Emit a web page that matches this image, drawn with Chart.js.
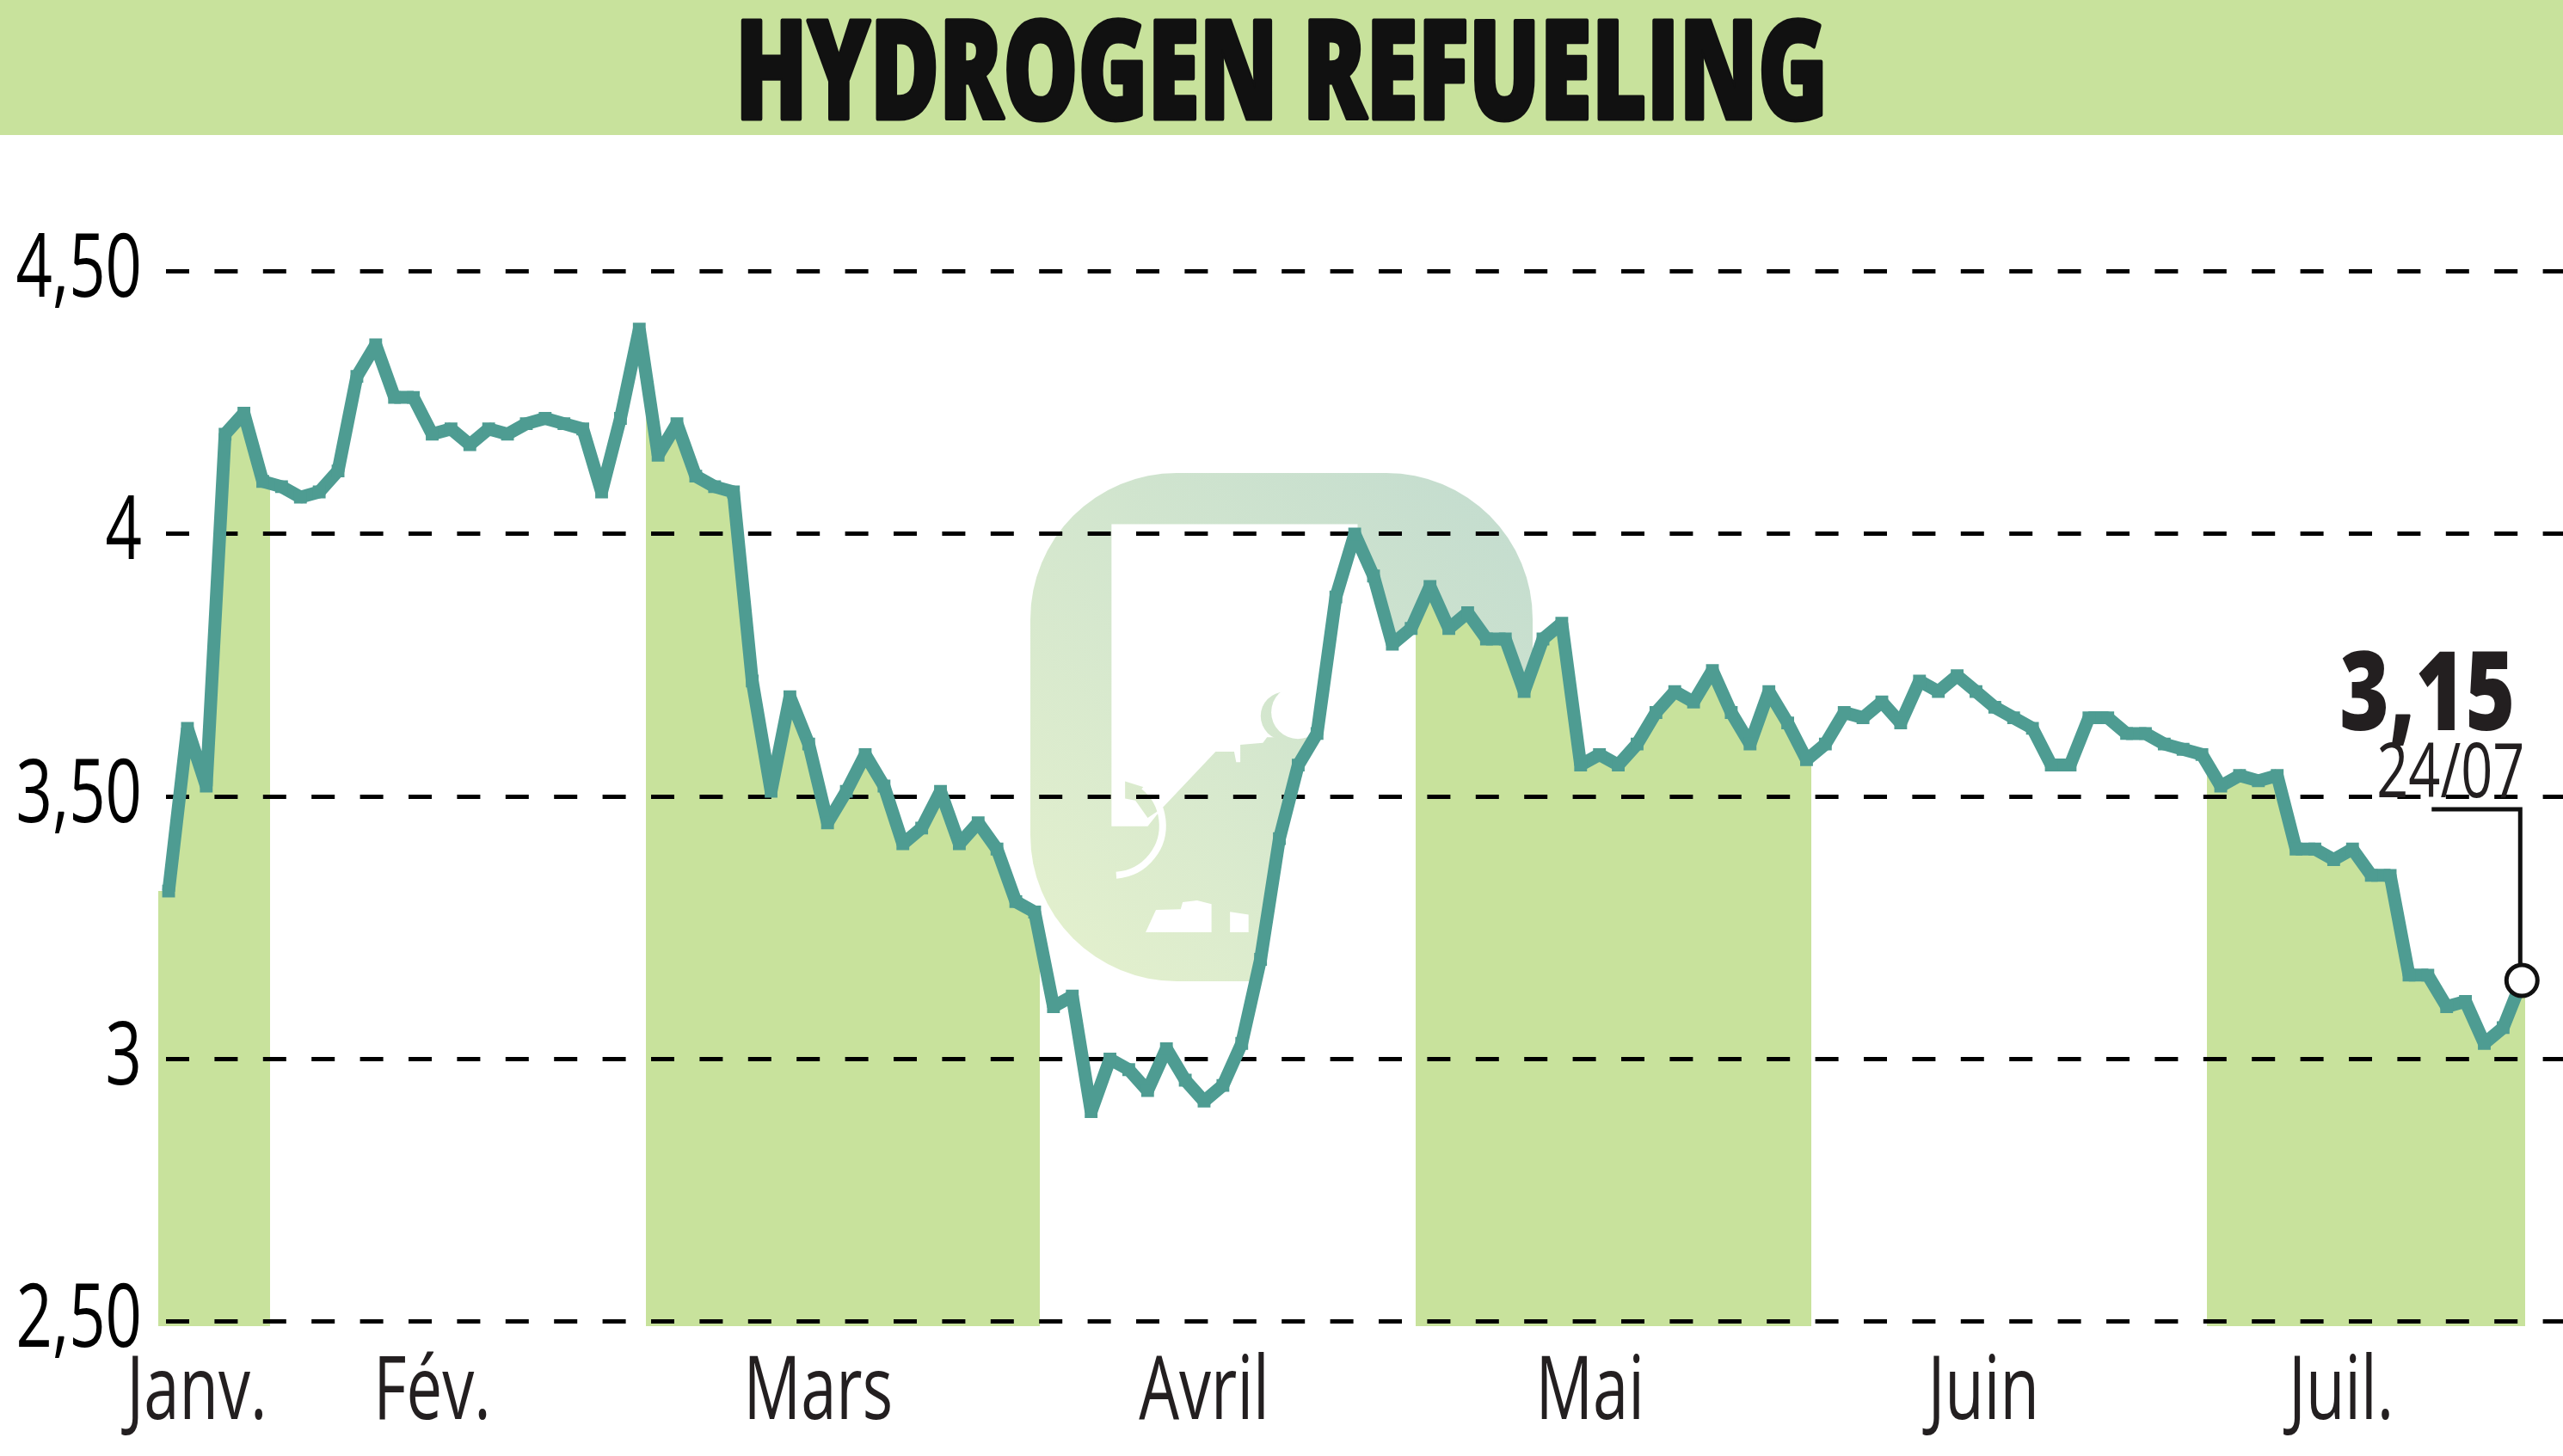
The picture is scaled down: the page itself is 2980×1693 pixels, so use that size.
<!DOCTYPE html>
<html><head><meta charset="utf-8">
<style>
html,body{margin:0;padding:0;background:#fff;width:2980px;height:1693px;overflow:hidden}
canvas{position:absolute;left:0;top:0}
</style>
<script src="https://cdn.jsdelivr.net/npm/chart.js@4/dist/chart.umd.min.js"></script>
</head><body>
<canvas id="bg" width="2980" height="1693"></canvas>
<canvas id="c" width="3003" height="1693" style="width:3003px;height:1693px"></canvas>
<script>
const titleText = "HYDROGEN REFUELING";
const prices = [
 3.32,3.63,3.52,4.19,4.23,4.10,4.09,4.07,4.08,4.12,
 4.30,4.36,4.26,4.26,4.19,4.20,4.17,4.20,4.19,4.21,
 4.22,4.21,4.20,4.08,4.22,4.39,4.15,4.21,4.11,4.09,
 4.08,3.72,3.51,3.69,3.60,3.45,3.51,3.58,3.52,3.41,
 3.44,3.51,3.41,3.45,3.40,3.30,3.28,3.10,3.12,2.90,
 3.00,2.98,2.94,3.02,2.96,2.92,2.95,3.03,3.19,3.42,
 3.56,3.62,3.88,4.00,3.92,3.79,3.82,3.90,3.82,3.85,
 3.80,3.80,3.70,3.80,3.83,3.56,3.58,3.56,3.60,3.66,
 3.70,3.68,3.74,3.66,3.60,3.70,3.64,3.57,3.60,3.66,
 3.65,3.68,3.64,3.72,3.70,3.73,3.70,3.67,3.65,3.63,
 3.56,3.56,3.65,3.65,3.62,3.62,3.60,3.59,3.58,3.52,
 3.54,3.53,3.54,3.40,3.40,3.38,3.40,3.35,3.35,3.16,
 3.16,3.10,3.11,3.03,3.06,3.15];
const yTicks = [2.5,3,3.5,4,4.5];
const yTickLabels = ["2,50","3","3,50","4","4,50"];
const monthLabels = ["Janv.","Fév.","Mars","Avril","Mai","Juin","Juil."];
const monthPositions = [1.5,14,34.5,55,75.5,96.4,115.4];
const shadedMonths = [[-0.55,5.38],[25.35,46.27],[66.23,87.24],[108.25,125.17]];
const lastValueLabel = "3,15";
const lastDateLabel = "24/07";

const GREEN="#c8e29c", TEAL="#4e9c92", INK="#231f20";
const FONT='"Open Sans","Liberation Sans",sans-serif';
const xMin=-0.55, xMax=127.18, yMin=2.4918, yMax=4.5;
const textWidths={[titleText]:1270,[lastValueLabel]:204,[lastDateLabel]:172};
const DEFAULT_SQUEEZE=0.72, TITLE_SHIFT=-11.5;

// the reference type is a condensed face: squeeze every label horizontally around its anchor
const mainCtx=document.getElementById('c').getContext('2d');
const nativeFill=mainCtx.fillText.bind(mainCtx), nativeStroke=mainCtx.strokeText.bind(mainCtx);
mainCtx.fillText=function(t,x,y){
 const w=textWidths[t], sx=w?w/mainCtx.measureText(t).width:DEFAULT_SQUEEZE;
 mainCtx.save();mainCtx.translate(t===titleText?x+TITLE_SHIFT:x,y);mainCtx.scale(sx,1);
 if(t===titleText){mainCtx.strokeStyle=mainCtx.fillStyle;mainCtx.lineWidth=5;mainCtx.lineJoin='round';nativeStroke(t,0,0);}
 nativeFill(t,0,0);
 mainCtx.restore();
};

// background: title band and faint watermark
(function(){
 const g=document.getElementById('bg').getContext('2d');
 g.fillStyle="#fff";g.fillRect(0,0,2980,1693);
 g.fillStyle=GREEN;g.fillRect(0,0,2980,157);
 const X=x=>1100+x/2.09, Y=y=>500+y/2.24;
 const grad=g.createLinearGradient(1230,1120,1770,560);
 grad.addColorStop(0,"#e3f0cd");grad.addColorStop(1,"#c3dccf");
 g.fillStyle=grad;
 g.beginPath();g.roundRect(1198,550,584,591,170);g.fill();
 g.fillStyle="#fff";
 const poly=(pts)=>{g.beginPath();pts.forEach((p,i)=>i?g.lineTo(X(p[0]),Y(p[1])):g.moveTo(X(p[0]),Y(p[1])));g.closePath();g.fill();};
 poly([[402,245],[1000,245],[1000,800],[780,800],[770,815],[715,820],[715,865],[705,865],[700,838],[655,838],[525,985],[490,1032],[402,1032]]);
 // horn
 g.fillStyle=grad;g.beginPath();g.arc(X(823),Y(745),28,0,Math.PI*2);g.fill();
 g.fillStyle="#fff";g.beginPath();g.arc(X(855),Y(735),31,0,Math.PI*2);g.fill();
 g.fillStyle=grad;
 poly([[435,915],[480,930],[515,960],[525,985],[490,1010],[460,965],[435,960]]);
 // ear arc and feet
 g.strokeStyle="#fff";g.lineWidth=8;g.beginPath();g.arc(X(405),Y(1030),58,-0.9,1.5);g.stroke();
 g.fillStyle="#fff";
 poly([[485,1308],[510,1250],[570,1248],[575,1230],[610,1225],[645,1235],[645,1308]]);
 poly([[690,1255],[735,1262],[735,1308],[690,1308]]);
})();

const fillPoints=[{x:xMin,y:prices[0]},...prices.map((v,i)=>({x:i,y:v})),{x:125.17,y:prices[prices.length-1]}];
const linePoints=prices.map((v,i)=>({x:i,y:v}));

function bandGradient(ctx){
 const ch=ctx.chart; if(!ch.chartArea) return GREEN;
 const a=ch.chartArea, sx=ch.scales.x;
 const gr=ch.ctx.createLinearGradient(a.left,0,a.right,0);
 const f=v=>Math.min(1,Math.max(0,(sx.getPixelForValue(v)-a.left)/(a.right-a.left)));
 let prev=0;
 shadedMonths.forEach(([s,e])=>{
  gr.addColorStop(prev,"#fff");gr.addColorStop(f(s),"#fff");
  gr.addColorStop(f(s),GREEN);gr.addColorStop(f(e),GREEN);
  gr.addColorStop(f(e),"#fff");prev=f(e);
 });
 gr.addColorStop(1,"#fff");
 return gr;
}

const callout={id:'callout',afterDatasetsDraw(ch){
 const c=ch.ctx,n=prices.length-1;
 const px=ch.scales.x.getPixelForValue(n),py=ch.scales.y.getPixelForValue(prices[n]);
 c.save();
 c.strokeStyle="#111";c.lineWidth=5;c.lineJoin='miter';
 c.beginPath();c.moveTo(px-105,941);c.lineTo(px-2,941);c.lineTo(px-2,py-18);c.stroke();
 c.fillStyle=INK;c.textAlign='right';c.textBaseline='alphabetic';
 c.font='800 127px '+FONT;c.fillText(lastValueLabel,px-8,849);
 c.font='87px '+FONT;c.fillText(lastDateLabel,px+3,927);
 c.restore();
}};

new Chart(document.getElementById('c'),{
 type:'line',
 data:{datasets:[
  {data:linePoints,borderColor:TEAL,borderWidth:15,borderJoinStyle:'bevel',borderCapStyle:'butt',tension:0,fill:false,order:0,
   pointStyle:c=>c.dataIndex===prices.length-1?'circle':'rect',
   pointRadius:c=>c.dataIndex===prices.length-1?18:10.5,
   pointBackgroundColor:c=>c.dataIndex===prices.length-1?"#fff":TEAL,
   pointBorderColor:c=>c.dataIndex===prices.length-1?"#111":TEAL,
   pointBorderWidth:c=>c.dataIndex===prices.length-1?5:0,pointHoverRadius:0},
  {data:fillPoints,borderWidth:0,borderColor:'transparent',pointRadius:0,tension:0,fill:'start',backgroundColor:bandGradient,order:1}
 ]},
 plugins:[callout],
 options:{
  responsive:false,animation:false,devicePixelRatio:1,
  layout:{padding:0},
  events:[],
  plugins:{
   legend:{display:false},tooltip:{enabled:false},
   filler:{drawTime:'beforeDraw'},
   title:{display:true,text:titleText,color:"#111",font:{family:FONT,size:160,weight:'800',lineHeight:1},padding:{top:12.5,bottom:143}}
  },
  scales:{
   x:{type:'linear',min:xMin,max:xMax,
    grid:{display:false},border:{display:false},
    afterBuildTicks:a=>{a.ticks=monthPositions.map(v=>({value:v}));},
    afterFit:a=>{a.height=151.1;a.paddingLeft=0;a.paddingRight=0;},
    ticks:{callback:(v,i)=>monthLabels[i],color:INK,font:{family:FONT,size:103},padding:9,autoSkip:false,maxRotation:0,minRotation:0}},
   y:{type:'linear',min:yMin,max:yMax,
    border:{display:false,dash:[27,29.4],dashOffset:47.4},
    grid:{color:"#000",lineWidth:5,drawTicks:false},
    afterBuildTicks:a=>{a.ticks=yTicks.map(v=>({value:v}));},
    afterFit:a=>{a.width=184;a.paddingTop=0;a.paddingBottom=0;},
    ticks:{callback:(v,i)=>yTickLabels[i],color:"#000",font:{family:FONT,size:103},padding:19,autoSkip:false}}
  }
 }
});
</script>
</body></html>
